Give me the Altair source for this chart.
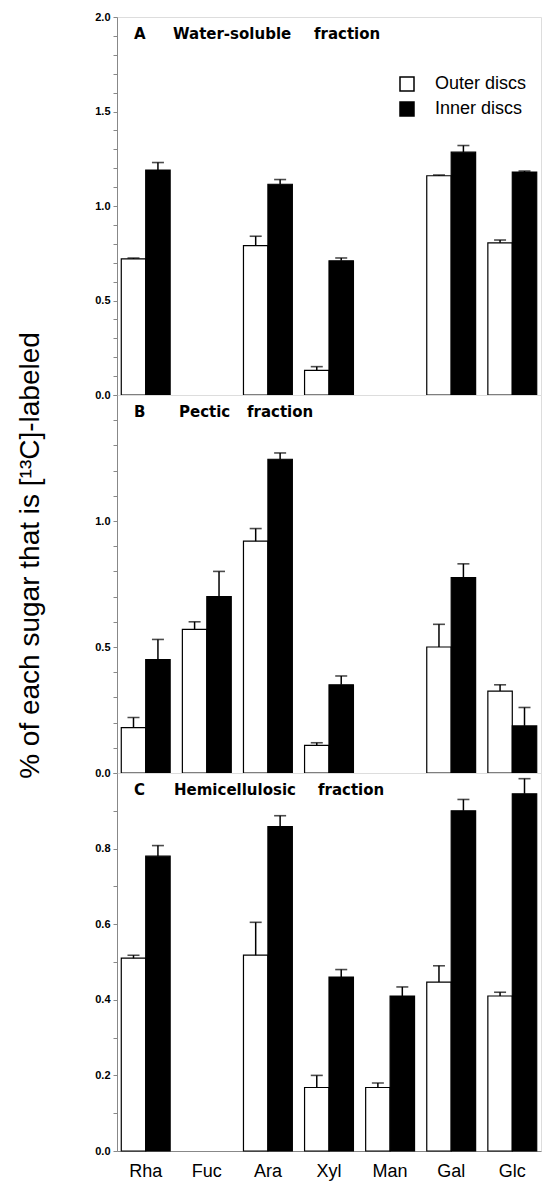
import altair as alt
import pandas as pd

sugars = ["Rha", "Fuc", "Ara", "Xyl", "Man", "Gal", "Glc"]
discs = ["Outer discs", "Inner discs"]

# Panel A: water-soluble fraction
a_outer = [0.72, None, 0.79, 0.13, None, 1.16, 0.805]
a_outer_err = [0.005, None, 0.05, 0.02, None, 0.004, 0.015]
a_inner = [1.19, None, 1.115, 0.71, None, 1.285, 1.18]
a_inner_err = [0.04, None, 0.025, 0.015, None, 0.035, 0.005]

# Panel B: pectic fraction
b_outer = [0.18, 0.57, 0.92, 0.11, None, 0.50, 0.325]
b_outer_err = [0.04, 0.03, 0.05, 0.01, None, 0.09, 0.025]
b_inner = [0.45, 0.70, 1.245, 0.35, None, 0.775, 0.187]
b_inner_err = [0.08, 0.10, 0.025, 0.035, None, 0.055, 0.073]

# Panel C: hemicellulosic fraction
c_outer = [0.51, None, 0.518, 0.168, 0.168, 0.447, 0.41]
c_outer_err = [0.008, None, 0.087, 0.032, 0.012, 0.043, 0.01]
c_inner = [0.78, None, 0.858, 0.46, 0.41, 0.90, 0.945]
c_inner_err = [0.028, None, 0.029, 0.02, 0.024, 0.03, 0.04]

panel_letters = ["A", "B", "C"]
panel_names = ["Water-soluble", "Pectic", "Hemicellulosic"]
panel_suffix = "fraction"
y_title = "% of each sugar that is [\u00b9\u00b3C]-labeled"

ticks_a = [0.0, 0.1, 0.2, 0.3, 0.4, 0.5, 0.6, 0.7, 0.8, 0.9, 1.0,
           1.1, 1.2, 1.3, 1.4, 1.5, 1.6, 1.7, 1.8, 1.9, 2.0]
ticks_b = [0.0, 0.1, 0.2, 0.3, 0.4, 0.5, 0.6, 0.7, 0.8, 0.9, 1.0,
           1.1, 1.2, 1.3, 1.4, 1.5]
ticks_c = [0.0, 0.1, 0.2, 0.3, 0.4, 0.5, 0.6, 0.7, 0.8, 0.9, 1.0]

FONT = "Liberation Sans"
LABEL_FONT = "DejaVu Sans"
W = 424
H = 378


def make_df(outer, outer_err, inner, inner_err):
    rows = []
    for s, v, e in zip(sugars, outer, outer_err):
        if v is not None:
            rows.append({"sugar": s, "disc": discs[0], "value": v, "err": e})
    for s, v, e in zip(sugars, inner, inner_err):
        if v is not None:
            rows.append({"sugar": s, "disc": discs[1], "value": v, "err": e})
    df = pd.DataFrame(rows)
    df["top"] = df["value"] + df["err"]
    return df


def panel(df, idx, ymax, ticks, label_expr, show_x, legend, y_axis_title,
          name_x, suffix_x):
    yscale = alt.Scale(domain=[0, ymax], nice=False, zero=True)
    yaxis = alt.Axis(values=ticks, labelExpr=label_expr, tickSize=4,
                     labelFontSize=11, labelFontWeight="bold", labelPadding=3,
                     labelOverlap=False, labelBound=False, domain=True,
                     grid=False,
                     title=y_axis_title if y_axis_title else None,
                     titleFontSize=28, titleFontWeight="normal",
                     titleX=-79, titleY=160, titleBaseline="alphabetic",
                     titleAngle=270, titleAlign="center")
    if show_x:
        xaxis = alt.Axis(title=None, ticks=False, labelFontSize=18,
                         labelPadding=11, labelAngle=0, domain=True,
                         grid=False)
    else:
        xaxis = None
    x = alt.X("sugar:N", scale=alt.Scale(domain=sugars, paddingInner=0.2,
                                         paddingOuter=0.07), axis=xaxis)
    xo = alt.XOffset("disc:N", scale=alt.Scale(domain=discs, paddingInner=0,
                                                paddingOuter=0))
    base = alt.Chart(df).encode(x=x, xOffset=xo)

    if legend:
        leg = alt.Legend(title=None, orient="none", legendX=281, legendY=58,
                         symbolType="square", symbolSize=196,
                         symbolStrokeColor="black", symbolStrokeWidth=1.5,
                         labelFontSize=18, labelFont=FONT, labelColor="black",
                         labelOffset=19, rowPadding=5, padding=0)
    else:
        leg = None
    bars = base.mark_bar(stroke="black", strokeWidth=1.2).encode(
        y=alt.Y("value:Q", scale=yscale, axis=yaxis),
        fill=alt.Fill("disc:N", scale=alt.Scale(domain=discs,
                                                range=["white", "black"]),
                      legend=leg),
    )
    rules = base.mark_rule(color="black", strokeWidth=1.5).encode(
        y=alt.Y("value:Q", scale=yscale, axis=yaxis),
        y2="top:Q",
    )
    caps = base.mark_tick(color="black", thickness=1.6, size=12).encode(
        y=alt.Y("top:Q", scale=yscale, axis=yaxis),
    )
    txt_style = dict(align="left", baseline="alphabetic", fontSize=15,
                     fontWeight="bold", font=LABEL_FONT, color="black")
    t1 = alt.Chart(pd.DataFrame({"t": [panel_letters[idx]]})).mark_text(
        **txt_style).encode(text="t:N", x=alt.value(17), y=alt.value(22))
    t2 = alt.Chart(pd.DataFrame({"t": [panel_names[idx]]})).mark_text(
        **txt_style).encode(text="t:N", x=alt.value(name_x), y=alt.value(22))
    t3 = alt.Chart(pd.DataFrame({"t": [panel_suffix]})).mark_text(
        **txt_style).encode(text="t:N", x=alt.value(suffix_x), y=alt.value(22))
    return alt.layer(bars, rules, caps, t1, t2, t3).properties(width=W, height=H)


df_a = make_df(a_outer, a_outer_err, a_inner, a_inner_err)
df_b = make_df(b_outer, b_outer_err, b_inner, b_inner_err)
df_c = make_df(c_outer, c_outer_err, c_inner, c_inner_err)

expr_a = "abs(datum.value*2 - round(datum.value*2)) < 0.01 ? format(datum.value, '.1f') : ''"
expr_b = "abs(datum.value*2 - round(datum.value*2)) < 0.01 && datum.value < 1.45 ? format(datum.value, '.1f') : ''"
expr_c = "abs(datum.value*5 - round(datum.value*5)) < 0.01 && datum.value < 0.95 ? format(datum.value, '.1f') : ''"

pa = panel(df_a, 0, 2.0, ticks_a, expr_a, False, True, None, 56, 197)
pb = panel(df_b, 1, 1.5, ticks_b, expr_b, False, False, y_title, 62, 130)
pc = panel(df_c, 2, 1.0, ticks_c, expr_c, True, False, None, 57, 201)

chart = alt.vconcat(pa, pb, pc, spacing=0, bounds="flush").resolve_legend(
    fill="independent"
).properties(
    padding={"left": 7, "top": 2, "right": 0, "bottom": 0}
).configure_axis(
    labelFont=FONT, titleFont=FONT, domainColor="black", tickColor="black",
    labelColor="black", titleColor="black", grid=False, domainWidth=1.5,
    tickWidth=1.2,
).configure_view(
    stroke="black", strokeWidth=1.5
).configure(background="white")

chart.save("out.html", embed_options={"renderer": "svg", "actions": False})
